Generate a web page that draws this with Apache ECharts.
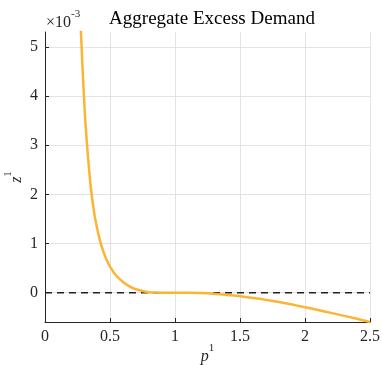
<!DOCTYPE html>
<html>
<head>
<meta charset="utf-8">
<script src="https://cdn.jsdelivr.net/npm/echarts@6/dist/echarts.min.js"></script>
<style>html,body{margin:0;padding:0;background:#fff}#c{width:382px;height:365px}</style>
</head>
<body>
<div id="c"></div>
<script>
// price of good 1 (p^1)
const prices = [0.26, 0.27, 0.28, 0.29, 0.30, 0.31, 0.325, 0.35, 0.375, 0.40, 0.425, 0.45, 0.475, 0.50, 0.55, 0.60, 0.65, 0.70, 0.75, 0.80, 0.85, 0.90, 1.0, 1.1, 1.2, 1.3, 1.4, 1.5, 1.6, 1.7, 1.8, 1.9, 2.0, 2.1, 2.2, 2.3, 2.4, 2.5];
// aggregate excess demand z^1, in units of 1e-3
const excessDemand = [6.3, 5.65, 5.1, 4.5, 3.98, 3.5, 2.95, 2.2, 1.68, 1.32, 1.04, 0.83, 0.66, 0.53, 0.34, 0.22, 0.13, 0.07, 0.035, 0.012, 0.003, 0.0, 0.0, 0.0, -0.005, -0.02, -0.045, -0.07, -0.105, -0.145, -0.19, -0.24, -0.295, -0.35, -0.41, -0.47, -0.53, -0.595];
const xTicks = [0, 0.5, 1, 1.5, 2, 2.5];
const yTicks = [0, 1, 2, 3, 4, 5];
const zeroLine = [[0, 0], [2.5, 0]];

const serif = '"Liberation Serif", "DejaVu Serif", serif';
const axisColor = '#262626';
const nameRich = {
  i: {fontFamily: serif, fontStyle: 'italic', fontSize: 16, color: axisColor, lineHeight: 22, verticalAlign: 'bottom'},
  s: {fontFamily: serif, fontSize: 11, color: axisColor, lineHeight: 12, verticalAlign: 'top'}
};
const chart = echarts.init(document.getElementById('c'), null, {renderer: 'canvas'});
chart.setOption({
  animation: false,
  title: [
    {text: 'Aggregate Excess Demand', left: 207, top: 5, textAlign: 'center',
     textStyle: {fontFamily: serif, fontSize: 19, fontWeight: 'normal', color: '#000'}},
    {text: '{a|×10}{b|-3}', left: 41, top: 4,
     textStyle: {fontWeight: 'normal', rich: {
       a: {fontFamily: serif, fontSize: 16, fontWeight: 'normal', color: axisColor, verticalAlign: 'bottom', lineHeight: 22},
       b: {fontFamily: serif, fontSize: 11, fontWeight: 'normal', color: axisColor, verticalAlign: 'top', lineHeight: 22, padding: [0,0,10,0]}
     }}}
  ],
  grid: {left: 45, right: 12, top: 32, bottom: 43, containLabel: false, outerBoundsMode: 'none'},
  xAxis: {
    type: 'value', min: 0, max: 2.5, interval: 0.5,
    name: '{i|p}{s|1}', nameLocation: 'middle', nameGap: 21, nameMoveOverlap: false,
    nameTextStyle: {rich: nameRich},
    axisLine: {show: true, onZero: false, lineStyle: {color: axisColor, width: 1}},
    axisTick: {show: true, inside: true, length: 4, lineStyle: {color: axisColor}, customValues: xTicks},
    axisLabel: {fontFamily: serif, fontSize: 16, color: axisColor, margin: 7, customValues: xTicks},
    splitLine: {show: true, lineStyle: {color: '#e3e3e3', width: 1}}
  },
  yAxis: {
    type: 'value', min: -0.595, max: 5.3,
    name: '{i|z}{s|1}', nameLocation: 'middle', nameGap: 20, nameRotate: 90, nameMoveOverlap: false,
    nameTextStyle: {rich: nameRich},
    axisLine: {show: true, onZero: false, lineStyle: {color: axisColor, width: 1}},
    axisTick: {show: true, inside: true, length: 4, lineStyle: {color: axisColor}, customValues: yTicks},
    axisLabel: {fontFamily: serif, fontSize: 16, color: axisColor, margin: 7, customValues: yTicks},
    splitLine: {show: true, lineStyle: {color: '#e3e3e3', width: 1}}
  },
  series: [
    {type: 'line', data: zeroLine, symbol: 'none', silent: true,
     lineStyle: {color: '#222', width: 1.3, type: [7, 5]}, z: 2},
    {type: 'line', data: prices.map((p, i) => [p, excessDemand[i]]), symbol: 'none', smooth: 0.3,
     clip: true, lineStyle: {color: '#FBB434', width: 2.5}, z: 3}
  ]
});
</script>
</body>
</html>
